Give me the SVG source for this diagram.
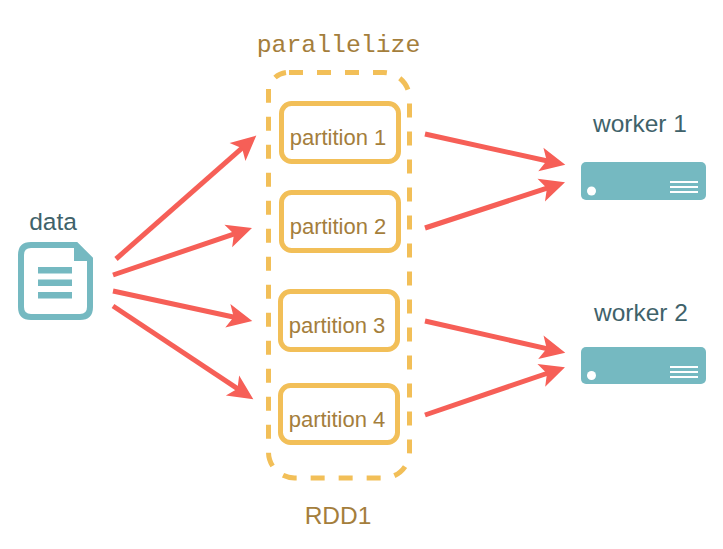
<svg xmlns="http://www.w3.org/2000/svg" width="723" height="549" viewBox="0 0 723 549">
<style>
.t{font-family:"Liberation Sans",Arial,sans-serif;font-size:22px}
.l{font-size:24.500px}
.dark{fill:#3f626a}
.brown{fill:#a47e3c}
.part{fill:#fff;stroke:#f2bf58;stroke-width:5}
.srv{fill:#75b9c1}
.wl{stroke:#fff;stroke-width:2}
.d{fill:none;stroke:#f2bf58;stroke-width:5}
.c{stroke:#f65f57;stroke-width:5;fill:none;marker-end:url(#a)}
</style>
<defs>
<marker id="a" markerUnits="userSpaceOnUse" markerWidth="32" markerHeight="30" refX="15" refY="12" orient="auto" viewBox="0 0 32 30" overflow="visible"><path d="M0 0L25 12L0 24L6 12Z" fill="#f65f57"/></marker>
</defs>
<rect width="723" height="549" fill="#fff"/>
<g id="rdd">
<path class="d" d="M317 72.500H383.500A26 26 0 0 1 409.500 98.500V452A26 26 0 0 1 383.500 478H294.500A26 26 0 0 1 268.500 452V89" stroke-dasharray="14 14"/>
<path class="d" d="M275 77.500Q279.500 73.500 286 72.500M289 72.500H303"/>
<text x="338.500" y="52" text-anchor="middle" font-family="'Liberation Mono',monospace" font-size="24.800" fill="#a47e3c">parallelize</text>
<text class="t l brown" x="338" y="523.500" text-anchor="middle">RDD1</text>
</g>
<g id="data">
<text class="t l dark" x="53" y="230" text-anchor="middle">data</text>
<path d="M31 245H76L90 259V307Q90 317 80 317H31Q21 317 21 307V255Q21 245 31 245Z" fill="#fff" stroke="#75b9c1" stroke-width="6"/>
<path d="M74 243L92 261H74Z" fill="#75b9c1"/>
<path d="M38 267H72V273.500H38ZM38 279.500H72V286H38ZM38 292H72V298.500H38Z" fill="#75b9c1"/>
</g>
<g id="partition1"><rect class="part" x="281.500" y="103.500" width="117" height="58" rx="10"/><text class="t brown" x="338" y="145" text-anchor="middle">partition 1</text></g>
<g id="partition2"><rect class="part" x="281.500" y="192.500" width="117" height="58" rx="10"/><text class="t brown" x="338" y="234" text-anchor="middle">partition 2</text></g>
<g id="partition3"><rect class="part" x="280.500" y="291.500" width="117" height="58" rx="10"/><text class="t brown" x="337" y="333" text-anchor="middle">partition 3</text></g>
<g id="partition4"><rect class="part" x="280.500" y="385.500" width="117" height="57" rx="10"/><text class="t brown" x="337" y="427" text-anchor="middle">partition 4</text></g>
<g id="worker1">
<text class="t l dark" x="640" y="131.500" text-anchor="middle">worker 1</text>
<rect class="srv" x="581" y="162" width="125" height="38" rx="5"/>
<circle cx="591.500" cy="191" r="4.500" fill="#fff"/>
<path class="wl" d="M670 182H698M670 187H698M670 192H698"/>
</g>
<g id="worker2">
<text class="t l dark" x="641" y="320.500" text-anchor="middle">worker 2</text>
<rect class="srv" x="581" y="347" width="125" height="37" rx="5"/>
<circle cx="591.500" cy="375.500" r="4.500" fill="#fff"/>
<path class="wl" d="M670 367H698M670 372H698M670 377H698"/>
</g>
<g id="connectors">
<path class="c" d="M116 259L248.800 142.200"/>
<path class="c" d="M113 275L242.500 231.200"/>
<path class="c" d="M113 291L242.500 319"/>
<path class="c" d="M113 306L245 393.700"/>
<path class="c" d="M425 134L555.500 162.700"/>
<path class="c" d="M425 228L555.500 185.400"/>
<path class="c" d="M425 321L555.500 350.600"/>
<path class="c" d="M425 415L555.500 370.500"/>
</g>
</svg>
